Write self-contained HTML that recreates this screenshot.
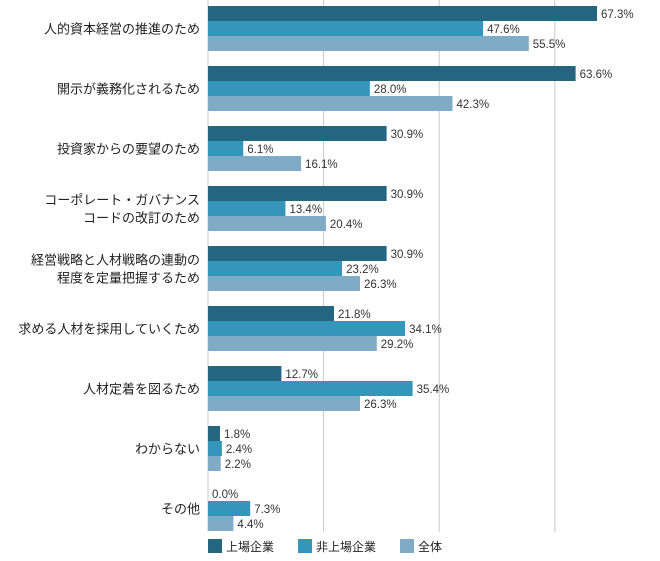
<!DOCTYPE html>
<html><head><meta charset="utf-8"><style>
body{margin:0;background:#fff;font-family:"Liberation Sans","Noto Sans CJK JP",sans-serif;}
svg text{font-family:"Liberation Sans","Noto Sans CJK JP",sans-serif;}
</style></head><body>
<svg id="chart" width="660" height="556" xmlns="http://www.w3.org/2000/svg"></svg>
<script>
const categories=[["人的資本経営の推進のため"],["開示が義務化されるため"],["投資家からの要望のため"],["コーポレート・ガバナンス","コードの改訂のため"],["経営戦略と人材戦略の連動の","程度を定量把握するため"],["求める人材を採用していくため"],["人材定着を図るため"],["わからない"],["その他"]];
const listed=[67.3,63.6,30.9,30.9,30.9,21.8,12.7,1.8,0.0];
const unlisted=[47.6,28.0,6.1,13.4,23.2,34.1,35.4,2.4,7.3];
const total=[55.5,42.3,16.1,20.4,26.3,29.2,26.3,2.2,4.4];
const seriesNames=["上場企業","非上場企業","全体"];
const gridTicks=[0,20,40,60];
const colors=["#24657f","#3595bb","#7fabc6"];
const NS="http://www.w3.org/2000/svg";
const svg=document.getElementById('chart');
const x0=208,pxPer=5.78,top0=6,pitch=60,barH=15;
const xs=v=>x0+v*pxPer;
function mk(t,a){const e=document.createElementNS(NS,t);for(const k in a)e.setAttribute(k,a[k]);svg.appendChild(e);return e;}
gridTicks.forEach((t,i)=>{const l=mk('line',{x1:xs(t),x2:xs(t),y1:0,y2:532,stroke:'#c8c8c8','stroke-width':1});

});
const series=[listed,unlisted,total];
categories.forEach((cat,i)=>{
  const gy=top0+i*pitch;
  const mid=gy+barH*1.5;
  cat.forEach((line,j)=>{const t=mk('text',{x:200,y:mid+5+(j-(cat.length-1)/2)*18,'text-anchor':'end','font-size':13,fill:'#222'});t.textContent=line;
  
  });
  series.forEach((s,k)=>{
    const v=s[i];const y=gy+k*barH;
    const w=Math.max(v*pxPer,v>0?12:0);
    const r=mk('rect',{x:x0,y:y,width:w,height:barH,fill:colors[k]});
    
    
    const t=mk('text',{x:x0+w+4,y:y+12,'font-size':11.5,fill:'#333'});t.textContent=v.toFixed(1)+'%';
    
    
  });
});
const lx=[208,298,400];
seriesNames.forEach((n,k)=>{
  const r=mk('rect',{x:lx[k],y:539,width:14,height:14,fill:colors[k]});
  
  
  const t=mk('text',{x:lx[k]+18,y:551,'font-size':12,fill:'#222'});t.textContent=n;
  
  
});
</script>
</body></html>
